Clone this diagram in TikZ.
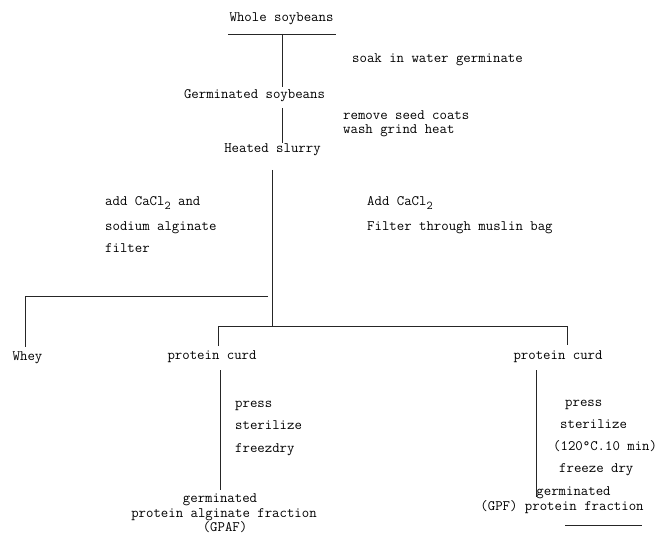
\documentclass[tikz,border=0pt]{standalone}
\usepackage{fontspec}
\newcommand{\subtwo}{\raisebox{-4bp}{\fontsize{12}{12}\selectfont 2}}
\begin{document}
\begin{tikzpicture}[x=1bp,y=-1bp,
  every node/.style={inner sep=0pt, font=\fontsize{14.4bp}{17bp}\selectfont\ttfamily},
  txt/.style={anchor=mid west},
  ctr/.style={anchor=mid},
  ln/.style={line width=0.9bp, black!85}]
\useasboundingbox (0,0) rectangle (657,537);
% top
\node[ctr] (whole) at (281.5,19) {Whole soybeans};
\coordinate (u1L) at (228,34); \coordinate (u1R) at (336,34);
\coordinate (a1) at (282,34); \coordinate (a2) at (282,87);
\draw[ln] (u1L) -- (u1R);
\draw[ln] (a1) -- (a2);
\node[txt] (soak) at (352,60) {soak in water germinate};
\node[ctr] (germ) at (254.5,96) {Germinated soybeans};
\coordinate (b1) at (282,108); \coordinate (b2) at (282,143);
\draw[ln] (b1) -- (b2);
\node[txt] (remove) at (343,117) {remove seed coats};
\node[txt] (wash) at (343,131) {wash grind heat};
\node[ctr] (slurry) at (272.5,150) {Heated slurry};
% main trunk
\coordinate (c1) at (272,170); \coordinate (c2) at (272,326);
\draw[ln] (c1) -- (c2);
\node[txt] (addL1) at (105,203) {add CaCl\subtwo{} and};
\node[txt] (addL2) at (105,228) {sodium alginate};
\node[txt] (addL3) at (105,250) {filter};
\node[txt] (addR1) at (367,203) {Add CaCl\subtwo};
\node[txt] (addR2) at (367,228) {Filter through muslin bag};
% whey branch
\coordinate (w1) at (268,296); \coordinate (w2) at (25,296); \coordinate (w3) at (25,347);
\draw[ln] (w1) -- (w2) -- (w3);
\node[ctr] (whey) at (27.5,358) {Whey};
% curd branches
\coordinate (h1) at (218,326); \coordinate (h2) at (567,326);
\coordinate (h1d) at (218,346); \coordinate (h2d) at (567,345);
\draw[ln] (h1d) -- (h1) -- (h2) -- (h2d);
\node[ctr] (curdL) at (212,357) {protein curd};
\node[ctr] (curdR) at (558,357) {protein curd};
% left process
\coordinate (l1) at (220,370); \coordinate (l2) at (220,490);
\draw[ln] (l1) -- (l2);
\node[txt] (pressL) at (235,405) {press};
\node[txt] (sterL) at (235,427) {sterilize};
\node[txt] (dryL) at (235,450) {freezdry};
\node[ctr] (gpaf1) at (220,500) {germinated};
\node[ctr] (gpaf2) at (224,515) {protein alginate fraction};
\node[ctr] (gpaf3) at (225,529) {(GPAF)};
% right process
\coordinate (r1) at (536,370); \coordinate (r2) at (536,497);
\draw[ln] (r1) -- (r2);
\node[txt] (pressR) at (565,404) {press};
\node[txt] (sterR) at (560,426) {sterilize};
\node[txt] (tempR) at (553,448) {(120°C.10 min)};
\node[txt] (dryR) at (559,470) {freeze dry};
\node[ctr] (gpf1) at (573.5,493) {germinated};
\node[ctr] (gpf2) at (562,508) {(GPF) protein fraction};
\coordinate (v1) at (565,525); \coordinate (v2) at (642,525);
\draw[ln] (v1) -- (v2);
\end{tikzpicture}
\end{document}
